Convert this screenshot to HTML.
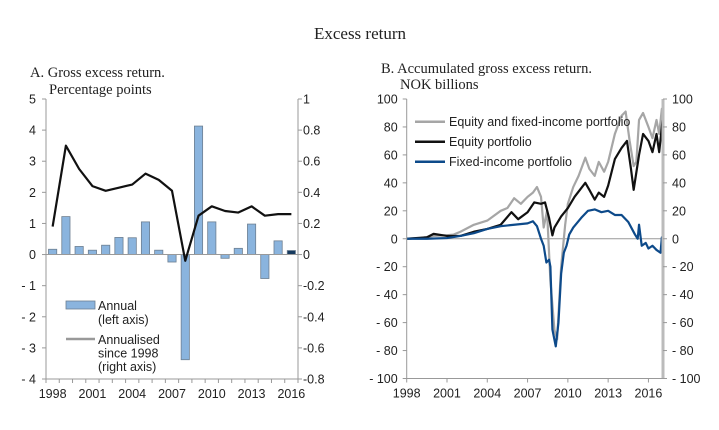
<!DOCTYPE html>
<html><head><meta charset="utf-8"><style>
body{margin:0;background:#fff;}
svg text{font-family:"Liberation Sans",Arial,sans-serif;fill:#222;}
.serif{font-family:"Liberation Serif","Times New Roman",serif !important;}
</style></head><body>
<svg id="c" width="719" height="425" viewBox="0 0 719 425" xmlns="http://www.w3.org/2000/svg">
<text class="serif" x="360" y="39" text-anchor="middle" font-size="17">Excess return</text>
<text class="serif" x="30" y="77" font-size="14.5">A.  Gross excess return.</text>
<text class="serif" x="49" y="94" font-size="14.5">Percentage points</text>
<text class="serif" x="381" y="73" font-size="14.5">B.  Accumulated gross excess return.</text>
<text class="serif" x="400" y="89" font-size="14.5">NOK billions</text>
<g id="A"></g>
<g id="B"></g>
</svg>
<script>
// Panel A data
const yearsA=[1998,1999,2000,2001,2002,2003,2004,2005,2006,2007,2008,2009,2010,2011,2012,2013,2014,2015,2016];
const annualVals=[0.17,1.22,0.26,0.14,0.3,0.55,0.54,1.05,0.14,-0.24,-3.38,4.13,1.05,-0.12,0.2,0.98,-0.77,0.44,0.13];
const annualisedVals=[0.18,0.70,0.55,0.44,0.41,0.43,0.45,0.52,0.48,0.41,-0.04,0.25,0.31,0.28,0.27,0.31,0.25,0.26,0.26];
const leftTicks=[5,4,3,2,1,0,-1,-2,-3,-4];
const leftTickLabels=["5","4","3","2","1","0","- 1","- 2","- 3","- 4"];
const rightTicks=[1,0.8,0.6,0.4,0.2,0,-0.2,-0.4,-0.6,-0.8];
const rightTickLabels=["1","0.8","0.6","0.4","0.2","0","-0.2","-0.4","-0.6","-0.8"];
const xLabelYearsA=[1998,2001,2004,2007,2010,2013,2016];
// Panel B data
const bTicks=[100,80,60,40,20,0,-20,-40,-60,-80,-100];
const bTickLabels=["100","80","60","40","20","0","- 20","- 40","- 60","- 80","- 100"];
const bXTicks=[1998,2001,2004,2007,2010,2013,2016];
const grayT=[1998,1999,2000,2001,2001.5,2002,2003,2004,2005,2005.5,2006,2006.5,2007,2007.4,2007.7,2008,2008.2,2008.45,2008.7,2009.0,2009.2,2009.5,2009.8,2010,2010.4,2010.8,2011.3,2011.6,2012,2012.3,2012.7,2013,2013.5,2014,2014.3,2014.6,2014.9,2015.1,2015.3,2015.6,2016,2016.3,2016.6,2016.8,2017.0,2017.1];
const grayV=[0,0.5,2,2.5,3,5,10,13,20,22,29,25,30,33,37,30,8,20,-30,-65,-72,-20,10,25,37,45,58,50,45,55,48,55,75,88,91,70,52,55,85,90,80,72,85,75,93,90];
const blackT=[1998,1999.5,2000,2001,2002,2003,2004,2005,2005.8,2006.3,2007,2007.5,2008,2008.3,2008.6,2008.85,2009,2009.5,2010,2010.5,2011.3,2011.6,2012,2012.3,2012.7,2013,2013.5,2014,2014.4,2014.7,2014.9,2015.3,2015.6,2016,2016.3,2016.6,2016.8,2017,2017.05,2017.1];
const blackV=[0,1,3.5,2,2,5,7,10,19,14,19,26,25,26,15,2.4,8,16,22,30,40,35,28,33,30,38,57,65,70,50,35,60,75,70,62,75,62,80,85,83];
const blueT=[1998,1999.5,2001,2002,2003,2004,2005,2006,2007,2007.4,2007.7,2008,2008.2,2008.4,2008.6,2008.7,2008.85,2009.1,2009.3,2009.5,2009.7,2009.9,2010.1,2010.4,2011,2011.5,2012,2012.5,2013,2013.5,2014,2014.5,2015,2015.2,2015.3,2015.5,2015.8,2016,2016.3,2016.6,2016.9,2017.0,2017.1];
const blueV=[0,0,0.5,2,4,7,9,10,11,12.5,9,0,-5,-17,-15,-20,-65,-77,-60,-25,-10,-5,3,8,15,20,21,19,20,17,17,12,3,0,10,-5,-3,-7,-5,-8,-10,1,2];

const NS="http://www.w3.org/2000/svg";
function mk(parent,tag,attrs,text){const e=document.createElementNS(NS,tag);for(const k in attrs)e.setAttribute(k,attrs[k]);if(text!==undefined)e.textContent=text;parent.appendChild(e);return e;}

// ---------- Panel A ----------
const A=document.getElementById('A');
const ax0=46,ax1=298,ay0=99,ay1=379;
const yL=v=>ay0+(5-v)*(ay1-ay0)/9;
const yR=v=>ay0+(1-v)*(ay1-ay0)/1.8;
const band=(ax1-ax0)/yearsA.length;
const xA=i=>ax0+band*(i+0.5);
annualVals.forEach((v,i)=>{
  const y0=yL(0),y=yL(v);
  const r=mk(A,'rect',{x:xA(i)-band*0.31,y:Math.min(y0,y),width:band*0.62,height:Math.abs(y-y0),fill:i===yearsA.length-1?'#163a5f':'#8ab4de',stroke:'#6d7f91','stroke-width':0.8});
  
  
});
let z=mk(A,'line',{x1:ax0,x2:ax1,y1:yL(0),y2:yL(0),stroke:'#999','stroke-width':1});


let pl=mk(A,'polyline',{points:annualisedVals.map((v,i)=>xA(i)+','+yR(v)).join(' '),fill:'none',stroke:'#111','stroke-width':2.2,'stroke-linejoin':'round'});


let la=mk(A,'line',{x1:ax0,x2:ax0,y1:ay0,y2:ay1,stroke:'#999','stroke-width':1});


let ra=mk(A,'line',{x1:ax1,x2:ax1,y1:ay0,y2:ay1,stroke:'#999','stroke-width':1});


let ba=mk(A,'line',{x1:ax0,x2:ax1,y1:ay1,y2:ay1,stroke:'#999','stroke-width':1});


leftTicks.forEach((v,i)=>{
  mk(A,'line',{x1:ax0-4,x2:ax0,y1:yL(v),y2:yL(v),stroke:'#999'});
  const t=mk(A,'text',{x:ax0-10,y:yL(v)+4.5,'text-anchor':'end','font-size':12.5},leftTickLabels[i]);
  
  
});
rightTicks.forEach((v,i)=>{
  mk(A,'line',{x1:ax1,x2:ax1+4,y1:yR(v),y2:yR(v),stroke:'#999'});
  const t=mk(A,'text',{x:ax1+5,y:yR(v)+4.5,'font-size':12.5},rightTickLabels[i]);
  
  
});
for(let i=0;i<=yearsA.length;i++) mk(A,'line',{x1:ax0+band*i,x2:ax0+band*i,y1:ay1,y2:ay1+4,stroke:'#999'});
xLabelYearsA.forEach(yr=>{
  const i=yearsA.indexOf(yr);
  const t=mk(A,'text',{x:xA(i),y:ay1+19,'text-anchor':'middle','font-size':12.5},String(yr));
  
  
});
// legend A
let lb=mk(A,'rect',{x:66,y:301,width:29,height:8,fill:'#8ab4de',stroke:'#6d7f91','stroke-width':0.8});


[["Annual",310],["(left axis)",324]].forEach(([s,y])=>{const t=mk(A,'text',{x:98,y:y,'font-size':12.5},s);});
let ll=mk(A,'line',{x1:66,x2:95,y1:339,y2:339,stroke:'#999','stroke-width':2.5});


[["Annualised",344],["since 1998",357.5],["(right axis)",371]].forEach(([s,y])=>{const t=mk(A,'text',{x:98,y:y,'font-size':12.5},s);});

// ---------- Panel B ----------
const B=document.getElementById('B');
const bx0=406.7,bx1=663,by0=99,by1=378.5;
const xB=t=>bx0+(t-1998)*13.43;
const yB=v=>by0+(100-v)*(by1-by0)/200;
let bz=mk(B,'line',{x1:bx0,x2:bx1,y1:yB(0),y2:yB(0),stroke:'#999'});


[[grayT,grayV,'#a6a6a6','series-equity-and-fixed-income'],[blackT,blackV,'#111','series-equity'],[blueT,blueV,'#0d4a8a','series-fixed-income']].forEach(([T,V,c,n])=>{
  const p=mk(B,'polyline',{points:T.map((t,i)=>xB(t)+','+yB(V[i])).join(' '),fill:'none',stroke:c,'stroke-width':2.2,'stroke-linejoin':'round'});
  
  
});
let bl=mk(B,'line',{x1:bx0,x2:bx0,y1:by0,y2:by1,stroke:'#999'});


let br=mk(B,'line',{x1:bx1,x2:bx1,y1:by0,y2:by1,stroke:'#bbb','stroke-width':3});


let bb=mk(B,'line',{x1:bx0,x2:bx1,y1:by1,y2:by1,stroke:'#999'});


bTicks.forEach((v,i)=>{
  mk(B,'line',{x1:bx0-4,x2:bx0,y1:yB(v),y2:yB(v),stroke:'#999'});
  mk(B,'line',{x1:bx1,x2:bx1+4,y1:yB(v),y2:yB(v),stroke:'#999'});
  const t=mk(B,'text',{x:bx0-9,y:yB(v)+4.5,'text-anchor':'end','font-size':12.5},bTickLabels[i]);
  
  
  const t2=mk(B,'text',{x:bx1+9,y:yB(v)+4.5,'font-size':12.5},bTickLabels[i]);
  
  
});
bXTicks.forEach(yr=>{
  mk(B,'line',{x1:xB(yr),x2:xB(yr),y1:by1,y2:by1+4,stroke:'#999'});
  const t=mk(B,'text',{x:xB(yr),y:by1+19,'text-anchor':'middle','font-size':12.5},String(yr));
  
  
});
[["Equity and fixed-income portfolio",'#a6a6a6',121.7],["Equity portfolio",'#111',141.7],["Fixed-income portfolio",'#0d4a8a',161.7]].forEach(([s,c,y])=>{
  const l=mk(B,'line',{x1:415,x2:445,y1:y,y2:y,stroke:c,'stroke-width':2.5});
  
  
  const t=mk(B,'text',{x:449,y:y+4.5,'font-size':12.5},s);
  
  
});
</script>
</body></html>
